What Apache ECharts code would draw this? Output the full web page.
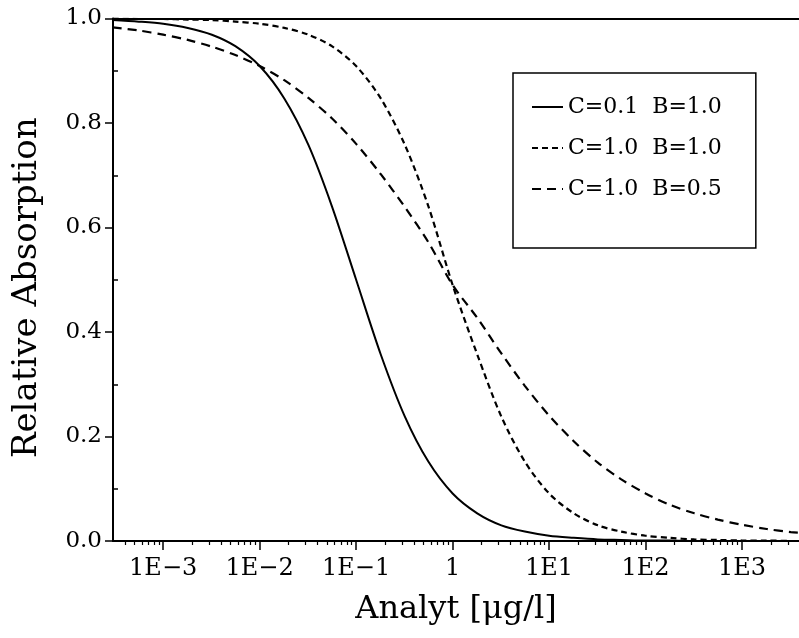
<!DOCTYPE html>
<html>
<head>
<meta charset="utf-8">
<script src="https://cdn.jsdelivr.net/npm/echarts@6/dist/echarts.min.js"></script>
<style>html,body{margin:0;padding:0;background:#fff;}#c{width:799px;height:638px;}</style>
</head>
<body>
<div id="c"></div>
<script>
// Analyte concentrations (µg/l) at which the curves were read
const concentrations = [3e-4, 5.6e-4, 1e-3, 1.8e-3, 3.2e-3, 5.6e-3, 1e-2, 1.8e-2, 3.2e-2, 5.6e-2,
  0.1, 0.18, 0.32, 0.56, 1, 1.8, 3.2, 5.6, 10, 18, 32, 56, 100, 180, 320, 560, 1000, 1800, 3200, 4000];
// Relative absorption
const seriesC01B10 = [0.997, 0.994, 0.990, 0.982, 0.969, 0.947, 0.909, 0.847, 0.758, 0.641,
  0.500, 0.357, 0.238, 0.152, 0.091, 0.053, 0.030, 0.018, 0.010, 0.006, 0.003, 0.002, 0.001, 0.001, 0, 0, 0, 0, 0, 0];
const seriesC10B10 = [1.000, 0.999, 0.999, 0.998, 0.997, 0.994, 0.990, 0.982, 0.969, 0.947,
  0.909, 0.847, 0.758, 0.641, 0.490, 0.357, 0.238, 0.152, 0.091, 0.053, 0.030, 0.018, 0.010, 0.006, 0.003, 0.002, 0.001, 0.001, 0, 0];
const seriesC10B05 = [0.983, 0.977, 0.969, 0.959, 0.946, 0.930, 0.909, 0.882, 0.848, 0.809,
  0.760, 0.702, 0.639, 0.572, 0.490, 0.427, 0.359, 0.297, 0.240, 0.191, 0.150, 0.118, 0.091, 0.069, 0.053, 0.041, 0.031, 0.023, 0.017, 0.016];
const seriesNames = ['C=0.1  B=1.0', 'C=1.0  B=1.0', 'C=1.0  B=0.5'];
// x tick labels (decades)
const tickDecades = [-3, -2, -1, 0, 1, 2, 3];
const tickLabels = ['1E\u22123', '1E\u22122', '1E\u22121', '1', '1E1', '1E2', '1E3'];
const yMajor = [0, 0.2, 0.4, 0.6, 0.8, 1.0];
const yMinor = [0.1, 0.3, 0.5, 0.7, 0.9];

const X_MIN = -3.52, X_MAX = 3.59;
const minorTicks = [];
for (let d = -4; d <= 3; d++) {
  for (let m = 2; m <= 9; m++) {
    const v = d + Math.log10(m);
    if (v > X_MIN && v < X_MAX) minorTicks.push(v);
  }
}
const toData = arr => concentrations.map((c, i) => [Math.log10(c), arr[i]]);

const FONT = 'DejaVu Serif';
const chart = echarts.init(document.getElementById('c'));
chart.setOption({
  animation: false,
  backgroundColor: '#fff',
  grid: { left: 113, right: 0, top: 18.5, bottom: 97, containLabel: false },
  legend: {
    orient: 'vertical',
    left: 513, top: 73,
    padding: [23, 34, 48, 18],
    borderColor: '#000', borderWidth: 1.5,
    itemWidth: 31, itemHeight: 14, itemGap: 19, itemTextGap: 9,
    itemStyle: { opacity: 0, borderWidth: 0 },
    textStyle: { fontFamily: FONT, fontSize: 22, color: '#000' },
    data: seriesNames
  },
  xAxis: [
    {
      type: 'value', position: 'bottom', min: X_MIN, max: X_MAX,
      name: 'Analyt [\u03bcg/l]', nameLocation: 'middle', nameGap: 53,
      nameTextStyle: { fontFamily: FONT, fontSize: 32, color: '#000' },
      axisLine: { show: true, onZero: false, lineStyle: { color: '#000', width: 2 } },
      axisTick: { show: true, length: 9, customValues: tickDecades, lineStyle: { color: '#000', width: 1.5 } },
      axisLabel: {
        customValues: tickDecades, margin: 16,
        fontFamily: FONT, fontSize: 24, color: '#000',
        formatter: v => { const i = tickDecades.indexOf(Math.round(v)); return i >= 0 ? tickLabels[i] : ''; }
      },
      splitLine: { show: false }
    },
    {
      type: 'value', position: 'bottom', min: X_MIN, max: X_MAX,
      axisLine: { show: false, onZero: false },
      axisTick: { show: true, length: 4, customValues: minorTicks, lineStyle: { color: '#000', width: 1.2 } },
      axisLabel: { show: false },
      splitLine: { show: false }
    },
    {
      type: 'value', position: 'top', min: X_MIN, max: X_MAX,
      axisLine: { show: true, onZero: false, lineStyle: { color: '#000', width: 2 } },
      axisTick: { show: false }, axisLabel: { show: false }, splitLine: { show: false }
    }
  ],
  yAxis: [
    {
      type: 'value', min: 0, max: 1, interval: 0.2, position: 'left',
      name: 'Relative Absorption', nameLocation: 'middle', nameGap: 69,
      nameTextStyle: { fontFamily: FONT, fontSize: 34, color: '#000', padding: [0, 16, 0, 0] },
      axisLine: { show: true, onZero: false, lineStyle: { color: '#000', width: 2 } },
      axisTick: { show: true, length: 8, customValues: yMajor, lineStyle: { color: '#000', width: 1.5 } },
      axisLabel: { customValues: yMajor, margin: 11, fontFamily: FONT, fontSize: 23, color: '#000', formatter: v => v.toFixed(1) },
      splitLine: { show: false }
    },
    {
      type: 'value', min: 0, max: 1, position: 'left',
      axisLine: { show: false, onZero: false },
      axisTick: { show: true, inside: true, length: 5, customValues: yMinor, lineStyle: { color: '#000', width: 1.5 } },
      axisLabel: { show: false }, splitLine: { show: false }
    }
  ],
  series: [
    { name: seriesNames[0], type: 'line', data: toData(seriesC01B10), symbol: 'none', smooth: 0.3,
      lineStyle: { color: '#000', width: 2, type: 'solid' }, itemStyle: { color: '#000' } },
    { name: seriesNames[1], type: 'line', data: toData(seriesC10B10), symbol: 'none', smooth: 0.3,
      lineStyle: { color: '#000', width: 2.2, type: [6, 4] }, itemStyle: { color: '#000' } },
    { name: seriesNames[2], type: 'line', data: toData(seriesC10B05), symbol: 'none', smooth: 0.3,
      lineStyle: { color: '#000', width: 2.2, type: [9, 6] }, itemStyle: { color: '#000' } }
  ]
});
</script>
</body>
</html>
